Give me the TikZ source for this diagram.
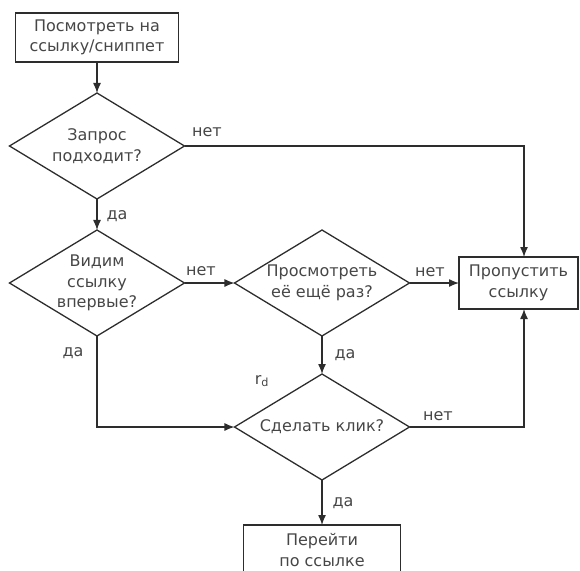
\documentclass[tikz,border=0pt]{standalone}
\usepackage{fontspec}
\setmainfont{DejaVu Sans}
\usetikzlibrary{shapes.geometric,arrows.meta,calc}
\definecolor{linegray}{RGB}{45,45,45}
\definecolor{textgray}{RGB}{70,70,70}

\begin{document}
\begin{tikzpicture}[x=1pt, y=-1pt, font=\fontsize{16}{20.5}\selectfont,
    every node/.style={inner sep=2pt, outer sep=0pt, text=textgray},
    box/.style={draw=linegray, line width=1.3pt, align=center},
    dec/.style={diamond, draw=linegray, line width=1.3pt, minimum width=175pt, minimum height=106pt, inner sep=0pt},
    txt/.style={align=center},
    arr/.style={-{Latex[length=10pt,width=8pt]}, draw=linegray, line width=1.3pt}]
      \useasboundingbox (0,0) rectangle (580,570);
      \clip (0,0) rectangle (580,570);

      \draw (97,37.5) node[box, minimum width=163pt, minimum height=49pt] (look) {Посмотреть на\\ссылку/сниппет};
      \draw (97,146) node[dec, label={[txt]center:{Запрос\\подходит?}}] (fit) {};
      \draw (97,283) node[dec, label={[txt]center:{Видим\\ссылку\\впервые?}}] (seen) {};
      \draw (322,283) node[dec, label={[txt]center:{Просмотреть\\её ещё раз?}}] (again) {};
      \draw (518.5,283) node[box, minimum width=119pt, minimum height=52pt] (skip) {Пропустить\\ссылку};
      \draw (322,427) node[dec, label={[txt]center:{Сделать клик?}}] (click) {};
      \draw (322,550) node[box, minimum width=157pt, minimum height=50pt] (go) {Перейти\\по ссылке};

      \coordinate (c1) at (524,146);
      \coordinate (c2) at (524,427);

      \draw[arr] (look) -- (fit);
      \draw[arr] (fit) -- (seen);
      \draw[arr] (seen) -- (again);
      \draw[arr] (again) -- (skip);
      \draw[arr] (again) -- (click);
      \draw[arr] (click) -- (go);
      \draw[arr] (seen) |- (click);
      \draw[arr] (fit) -- (c1) -- (c1 |- skip.north);
      \draw[arr] (click) -- (c2) -- (c2 |- skip.south);

      \draw (207,132) node (no1) {нет};
      \draw (117,216) node (yes1) {да};
      \draw (201,271) node (no2) {нет};
      \draw (73,353) node (yes2) {да};
      \draw (430,272) node (no3) {нет};
      \draw (345,355) node (yes3) {да};
      \draw (262,381) node (rd) {r\textsubscript{d}};
      \draw (438,416) node (no4) {нет};
      \draw (343,503) node (yes4) {да};
    \end{tikzpicture}
\end{document}
